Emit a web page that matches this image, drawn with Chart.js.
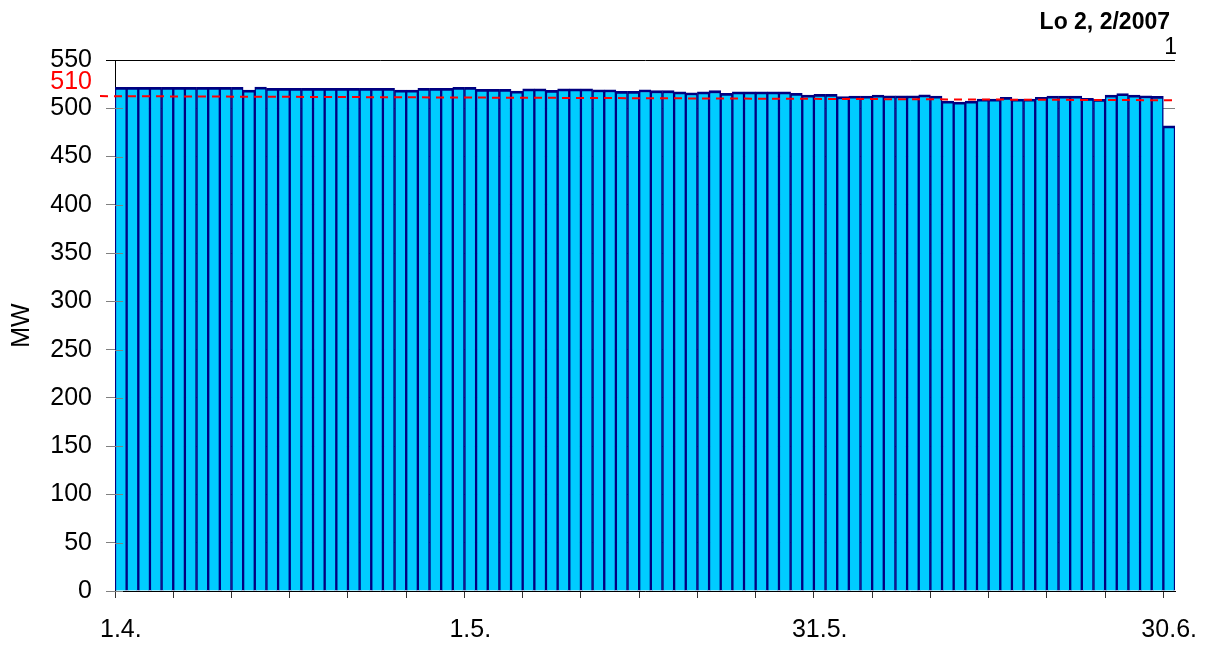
<!DOCTYPE html>
<html>
<head>
<meta charset="utf-8">
<script src="https://cdn.jsdelivr.net/npm/chart.js@4"></script>
<style>
html, body { margin: 0; padding: 0; background: #fff; }
</style>
</head>
<body>
<canvas id="chartLo2" width="1206" height="646"></canvas>
<script>
// months shown and their lengths (1.4. - 30.6.)
var monthNumbers = [4, 5, 6];
var monthLengths = [30, 31, 30];
var tickLabels = ["1.4.", "1.5.", "31.5.", "30.6."];

// daily output, MW
var dailyMW = [
  521.7, 521.7, 521.7, 521.7, 521.7, 521.7, 521.7, 521.7, 521.7, 521.7,
  521.7, 518.9, 522.0, 520.6, 520.6, 520.6, 520.6, 520.6, 520.6, 520.6,
  520.6, 520.6, 520.6, 520.6, 518.9, 518.9, 520.6, 520.6, 520.6, 521.7,
  521.7, 519.6, 519.6, 519.6, 517.9, 520.2, 520.2, 518.6, 520.2, 520.2,
  520.2, 519.2, 519.2, 517.6, 517.6, 519.2, 518.2, 518.2, 517.1, 516.1,
  517.1, 518.2, 515.5, 517.1, 517.1, 517.1, 517.1, 517.1, 515.5, 513.7,
  514.4, 514.4, 512.0, 512.7, 512.7, 513.7, 513.0, 513.0, 513.0, 514.0,
  512.7, 507.5, 506.5, 507.5, 509.6, 509.6, 511.3, 509.6, 509.6, 511.3,
  512.7, 512.7, 512.7, 510.4, 509.3, 513.7, 515.3, 513.7, 513.0, 512.4,
  481.9
];

// red dashed trend, value at left end and right end
var trendMW = [512.6, 508.3];
var trendLabel = "510";
var chartTitle = "Lo 2, 2/2007";
var cornerNote = "1";
var yMin = 0, yMax = 550, yStep = 50;

var days = [];
for (var m = 0; m < monthNumbers.length; m++) {
  for (var d = 1; d <= monthLengths[m]; d++) {
    days.push(d + "." + monthNumbers[m] + ".");
  }
}

var FONT = "'Liberation Sans', Arial, sans-serif";
Chart.defaults.font.family = FONT;
Chart.defaults.color = "#000";

var extrasPlugin = {
  id: "lo2Extras",
  afterDatasetsDraw: function(chart) {
    var ctx = chart.ctx, a = chart.chartArea, y = chart.scales.y;
    ctx.save();
    // inner half of the cross tick marks
    ctx.lineWidth = 1;
    y.ticks.forEach(function(t) {
      var py = Math.round(y.getPixelForValue(t.value)) + 0.5;
      ctx.strokeStyle = t.value === yMax ? "#000" : "#808080";
      ctx.beginPath();
      ctx.moveTo(a.left, py);
      ctx.lineTo(a.left + 8, py);
      ctx.stroke();
    });
    // trend line
    var y0 = y.getPixelForValue(trendMW[0]);
    var y1 = y.getPixelForValue(trendMW[1]);
    ctx.strokeStyle = "#FF0000";
    ctx.lineWidth = 2;
    ctx.setLineDash([8, 6]);
    ctx.beginPath();
    ctx.moveTo(a.left - 15, y0);
    ctx.lineTo(a.right - 3, y1);
    ctx.stroke();
    ctx.setLineDash([]);
    // red label on the axis
    ctx.fillStyle = "#FF0000";
    ctx.font = "25px " + FONT;
    ctx.textAlign = "right";
    ctx.textBaseline = "middle";
    ctx.fillText(trendLabel, a.left - 23, y0 - 14);
    ctx.restore();
  },
  afterDraw: function(chart) {
    var ctx = chart.ctx, a = chart.chartArea;
    ctx.save();
    ctx.fillStyle = "#000";
    ctx.textAlign = "right";
    ctx.textBaseline = "alphabetic";
    ctx.font = "bold 23px " + FONT;
    ctx.fillText(chartTitle, a.right - 5, a.top - 31);
    ctx.font = "23px " + FONT;
    ctx.fillText(cornerNote, a.right + 2, a.top - 6);
    ctx.restore();
  }
};

var lo2Chart = new Chart(document.getElementById("chartLo2").getContext("2d"), {
  type: "bar",
  data: {
    labels: days,
    datasets: [{
      data: dailyMW,
      backgroundColor: "#00CCFF",
      borderColor: "#000080",
      borderWidth: { top: 2.8, left: 1.5, right: 1.5, bottom: 0 },
      borderSkipped: false,
      barPercentage: 1,
      categoryPercentage: 1
    }]
  },
  options: {
    responsive: false,
    animation: false,
    layout: { padding: { top: 60, right: 31, left: 0, bottom: 0 } },
    plugins: {
      legend: { display: false },
      tooltip: { enabled: false }
    },
    scales: {
      x: {
        offset: true,
        grid: {
          offset: true,
          drawOnChartArea: false,
          tickLength: 7,
          tickColor: function(c) { return c.index % 5 === 0 ? "#333" : "rgba(0,0,0,0)"; }
        },
        border: { color: "#000", width: 1 },
        ticks: {
          autoSkip: false,
          maxRotation: 0,
          minRotation: 0,
          padding: 17,
          font: { size: 25 },
          color: "#000",
          callback: function(v, i) {
            return tickLabels.indexOf(days[i]) >= 0 ? days[i] : "";
          }
        },
        afterFit: function(s) {
          s.height = 55;
          s.paddingLeft = 0;
          s.paddingRight = 0;
        }
      },
      y: {
        min: yMin,
        max: yMax,
        ticks: { stepSize: yStep, padding: 14, font: { size: 25 }, color: "#000" },
        grid: {
          tickLength: 9,
          lineWidth: 1,
          color: function(c) { return c.tick && c.tick.value === yMax ? "#000" : "#808080"; }
        },
        border: { color: "#000", width: 1 },
        title: { display: true, text: "MW", font: { size: 25 }, color: "#000", padding: { top: 7, bottom: 0 } },
        afterFit: function(s) { s.width = 115; }
      }
    }
  },
  plugins: [extrasPlugin]
});
</script>
</body>
</html>
